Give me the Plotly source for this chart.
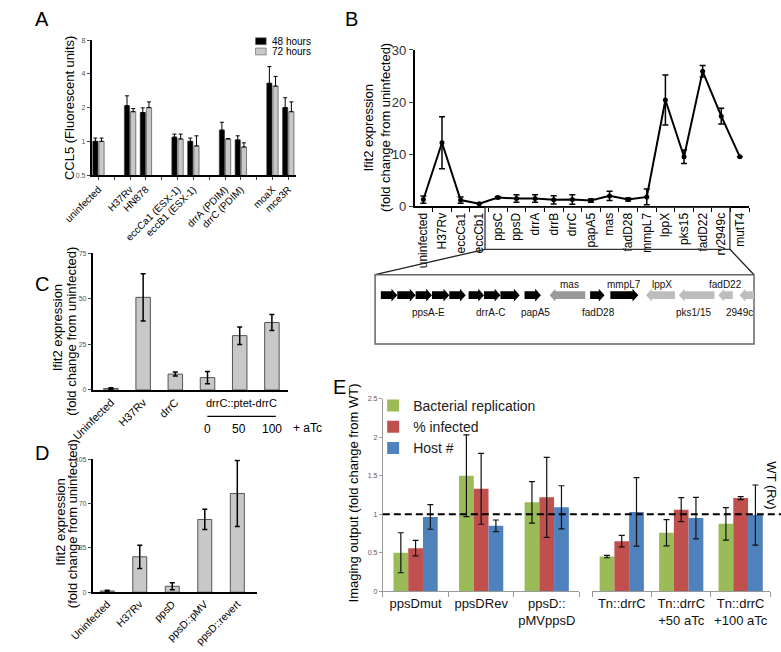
import math
import plotly.graph_objects as go

W, H = 781, 652
FONT = "Liberation Sans, Arial, sans-serif"


def px(x):
    return x / W


def py(y):
    return 1 - y / H


# ---------------- Panel A data ----------------
a_categories = ["uninfected", "H37Rv", "HN878", "eccCa1 (ESX-1)", "eccB1 (ESX-1)",
                "drrA (PDIM)", "drrC (PDIM)", "moaX", "mce3R"]
a_slots = [0, 2, 3, 5, 6, 8, 9, 11, 12]
a_48h = [1.0, 2.08, 1.81, 1.09, 1.0, 1.26, 1.03, 3.3, 2.0]
a_48h_upper = [1.07, 2.55, 1.99, 1.16, 1.07, 1.48, 1.12, 4.65, 2.45]
a_72h = [1.0, 1.84, 2.0, 1.05, 0.91, 1.05, 0.89, 3.11, 1.84]
a_72h_upper = [1.07, 1.96, 2.25, 1.16, 1.12, 1.06, 0.97, 3.8, 2.25]
a_series = ["48 hours", "72 hours"]
a_colors = ["#000000", "#c8c8c8"]
a_yticks = [0.5, 1, 2, 4, 8]

# ---------------- Panel B data ----------------
b_categories = ["uninfected", "H37Rv", "eccCa1", "eccCb1", "ppsC", "ppsD", "drrA", "drrB",
                "drrC", "papA5", "mas", "fadD28", "mmpL7", "lppX", "pks15", "fadD22",
                "rv2949c", "mutT4"]
b_values = [1.3, 12.2, 1.2, 0.5, 1.7, 1.5, 1.5, 1.25, 1.3, 1.1, 2.0, 1.3, 1.8, 20.4, 9.5,
            25.9, 17.3, 9.5]
b_errors = [0.7, 5.0, 0.6, 0.0, 0.2, 0.7, 0.7, 0.8, 0.9, 0.3, 0.9, 0.3, 1.5, 4.8, 1.3,
            1.1, 1.5, 0.0]
b_yticks = [0, 10, 20, 30]

# ---------------- Gene diagram data (kb-like units along the locus) ----------------
gene_names = ["ppsA", "ppsB", "ppsC", "ppsD", "ppsE", "drrA", "drrB", "drrC", "papA5",
              "mas", "fadD28", "mmpL7", "lppX", "pks1/15", "fadD22", "rv2949c"]
gene_start = [0.6, 2.3, 4.2, 5.9, 7.7, 9.7, 11.3, 13.0, 15.5, 18.1, 22.3, 24.4, 28.1,
              31.5, 35.6, 37.8]
gene_end = [2.3, 4.2, 5.9, 7.7, 9.4, 11.3, 13.0, 15.0, 17.2, 21.8, 23.8, 27.3, 31.1,
            35.2, 37.1, 39.3]
gene_strand = [1, 1, 1, 1, 1, 1, 1, 1, 1, -1, 1, 1, -1, -1, -1, -1]
gene_color = ["#000000"] * 9 + ["#9a9a9a", "#000000", "#000000", "#bdbdbd", "#bdbdbd",
                                "#bdbdbd", "#bdbdbd"]
label_text = ["ppsA-E", "drrA-C", "papA5", "mas", "fadD28", "mmpL7", "lppX", "pks1/15",
              "fadD22", "2949c"]
label_pos = [5.5, 12.0, 16.6, 20.2, 23.2, 25.8, 29.8, 33.0, 36.3, 37.8]
label_above = [False, False, False, True, False, True, True, False, True, False]

# ---------------- Panel C data ----------------
c_categories = ["Uninfected", "H37Rv", "drrC"]
c_atc_doses = ["0", "50", "100"]
c_values = [0.8, 50.8, 8.7, 6.8, 29.8, 37.0]
c_errors = [0.4, 13.0, 1.1, 3.4, 4.8, 4.4]
c_yticks = [0, 25, 50, 75]

# ---------------- Panel D data ----------------
d_categories = ["Uninfected", "H37Rv", "ppsD", "ppsD::pMV", "ppsD::revert"]
d_values = [1.0, 28.0, 4.7, 57.5, 78.0]
d_errors = [0.6, 9.2, 2.8, 8.0, 26.0]
d_yticks = [0, 35, 70, 105]

# ---------------- Panel E data ----------------
e_series = ["Bacterial replication", "% infected", "Host #"]
e_colors = ["#9BBB59", "#C0504D", "#4F81BD"]
e_categories_1 = ["ppsDmut", "ppsDRev", "ppsD::<br>pMVppsD"]
e_categories_2 = ["Tn::drrC", "Tn::drrC<br>+50 aTc", "Tn::drrC<br>+100 aTc"]
e_values_1 = [[0.5, 1.5, 1.155], [0.56, 1.33, 1.22], [0.965, 0.85, 1.09]]
e_errors_1 = [[0.26, 0.53, 0.27], [0.1, 0.46, 0.52], [0.16, 0.075, 0.28]]
e_values_2 = [[0.45, 0.76, 0.875], [0.65, 1.06, 1.21], [1.03, 0.95, 0.99]]
e_errors_2 = [[0.015, 0.17, 0.21], [0.075, 0.155, 0.02], [0.445, 0.27, 0.39]]
e_yticks = [0, 0.5, 1, 1.5, 2, 2.5]
e_reference = 1.0

fig = go.Figure()

# ---------- Panel A traces ----------
for name, vals, upper, color, off in [(a_series[0], a_48h, a_48h_upper, a_colors[0], -0.36),
                                       (a_series[1], a_72h, a_72h_upper, a_colors[1], 0.03)]:
    fig.add_trace(go.Bar(
        x=a_slots, y=vals, name=name, xaxis="x", yaxis="y", showlegend=False,
        width=0.33, offset=off,
        marker=dict(color=color, line=dict(color="#333333", width=0.6)),
        error_y=dict(type="data", symmetric=False,
                     array=[u - v for u, v in zip(upper, vals)],
                     arrayminus=[0] * len(vals), color="#000000", thickness=1, width=2),
    ))

# ---------- Panel B trace ----------
fig.add_trace(go.Scatter(
    x=list(range(len(b_categories))), y=b_values, mode="lines+markers",
    xaxis="x2", yaxis="y2", showlegend=False,
    line=dict(color="#000000", width=2), marker=dict(color="#000000", size=5),
    error_y=dict(type="data", array=b_errors, color="#000000", thickness=1.5, width=3),
))

# ---------- Panel C trace ----------
fig.add_trace(go.Bar(
    x=list(range(len(c_values))), y=c_values, xaxis="x4", yaxis="y4", showlegend=False,
    width=0.45, marker=dict(color="#c8c8c8", line=dict(color="#555555", width=1)),
    error_y=dict(type="data", array=c_errors, color="#000000", thickness=1.5, width=2.5),
))

# ---------- Panel D trace ----------
fig.add_trace(go.Bar(
    x=list(range(len(d_values))), y=d_values, xaxis="x5", yaxis="y5", showlegend=False,
    width=0.43, marker=dict(color="#c8c8c8", line=dict(color="#555555", width=1)),
    error_y=dict(type="data", array=d_errors, color="#000000", thickness=1.5, width=2.5),
))

# ---------- Panel E traces ----------
for k in range(3):
    w1 = 0.225
    fig.add_trace(go.Bar(
        x=[0, 1, 2], y=e_values_1[k], name=e_series[k], xaxis="x6", yaxis="y6",
        width=w1, offset=-1.5 * w1 + k * w1, legend="legend",
        marker=dict(color=e_colors[k], line=dict(width=0)),
        error_y=dict(type="data", array=e_errors_1[k], color="#111111", thickness=1.2, width=3),
    ))
for k in range(3):
    w2 = 0.248
    fig.add_trace(go.Bar(
        x=[0, 1, 2], y=e_values_2[k], name=e_series[k], xaxis="x7", yaxis="y6",
        width=w2, offset=-1.5 * w2 + k * w2, showlegend=False,
        marker=dict(color=e_colors[k], line=dict(width=0)),
        error_y=dict(type="data", array=e_errors_2[k], color="#111111", thickness=1.2, width=3),
    ))

small_tick = dict(size=7, color="#555555", family=FONT)

layout = dict(
    width=W, height=H, margin=dict(l=0, r=0, t=0, b=0),
    paper_bgcolor="white", plot_bgcolor="white",
    font=dict(family=FONT, color="#000000"),
    # Panel A
    xaxis=dict(domain=[px(66), px(278)], anchor="y", range=[-0.43, 12.49],
               tickmode="array", tickvals=a_slots, ticktext=a_categories, tickangle=-45,
               tickfont=dict(size=10), ticks="outside", ticklen=3,
               minor=dict(tickmode="linear", tick0=0, dtick=1, ticks="outside", ticklen=3),
               showline=True, linecolor="#000", linewidth=1.5, showgrid=False, zeroline=False),
    yaxis=dict(domain=[py(172), py(34)], anchor="x", type="log",
               range=[math.log10(0.5), math.log10(8)], tickmode="array", tickvals=a_yticks,
               ticktext=[str(t) for t in a_yticks], tickfont=small_tick, ticks="outside",
               ticklen=3, showline=True, linecolor="#000", linewidth=1.5, showgrid=False),
    # Panel B
    xaxis2=dict(domain=[px(401), px(748)], anchor="y2", range=[-0.47, 17.5],
                tickmode="array", tickvals=list(range(len(b_categories))),
                ticktext=b_categories, tickangle=-90, tickfont=dict(size=12),
                ticks="", minor=dict(tickmode="linear", tick0=0.5, dtick=1,
                                     ticks="outside", ticklen=4, tickcolor="#000"),
                showline=True, linecolor="#000", linewidth=1.5, showgrid=False, zeroline=False),
    yaxis2=dict(domain=[py(204), py(44)], anchor="x2", range=[0, 30], tickmode="array",
                tickvals=b_yticks, tickfont=dict(size=13, color="#333"), ticks="outside",
                ticklen=4, showline=True, linecolor="#000", linewidth=1.5, showgrid=False,
                zeroline=False),
    # Gene diagram axes
    xaxis3=dict(domain=[px(360), px(753)], anchor="y3", range=[0, 39.3], visible=False),
    yaxis3=dict(domain=[py(345), py(274)], anchor="x3", range=[-50, 21], visible=False),
    # Panel C
    xaxis4=dict(domain=[px(67), px(270)], anchor="y4", range=[-0.57, 5.51],
                tickmode="array", tickvals=[0, 1, 2], ticktext=c_categories, tickangle=-45,
                tickfont=dict(size=11), ticks="", showline=True, linecolor="#000",
                linewidth=1.5, showgrid=False, zeroline=False),
    yaxis4=dict(domain=[py(392), py(252)], anchor="x4", range=[0, 75], tickmode="array",
                tickvals=c_yticks, tickfont=small_tick, ticks="outside", ticklen=3,
                showline=True, linecolor="#000", linewidth=1.5, showgrid=False, zeroline=False),
    # Panel D
    xaxis5=dict(domain=[px(67), px(238)], anchor="y5", range=[-0.45, 4.62],
                tickmode="array", tickvals=list(range(len(d_categories))),
                ticktext=d_categories, tickangle=-45, tickfont=dict(size=10.5), ticks="",
                showline=True, linecolor="#000", linewidth=1.5, showgrid=False,
                zeroline=False),
    yaxis5=dict(domain=[py(599), py(463)], anchor="x5", range=[0, 105], tickmode="array",
                tickvals=d_yticks, tickfont=small_tick, ticks="outside", ticklen=3,
                showline=True, linecolor="#000", linewidth=1.5, showgrid=False, zeroline=False),
    # Panel E
    xaxis6=dict(domain=[px(368), px(572)], anchor="y6", range=[-0.5, 2.5],
                tickmode="array", tickvals=[0, 1, 2], ticktext=e_categories_1,
                tickangle=0, tickfont=dict(size=13, color="#111"), ticks="",
                minor=dict(tickmode="linear", tick0=-0.5, dtick=1, ticks="outside",
                           ticklen=5, tickcolor="#999"),
                showline=True, linecolor="#999", linewidth=1, showgrid=False, zeroline=False),
    xaxis7=dict(domain=[px(585), px(770)], anchor="y6", range=[-0.5, 2.5],
                tickmode="array", tickvals=[0, 1, 2], ticktext=e_categories_2,
                tickangle=0, tickfont=dict(size=13, color="#111"), ticks="",
                minor=dict(tickmode="linear", tick0=-0.5, dtick=1, ticks="outside",
                           ticklen=5, tickcolor="#999"),
                showline=True, linecolor="#999", linewidth=1, showgrid=False, zeroline=False),
    yaxis6=dict(domain=[py(598), py(401)], anchor="x6", range=[0, 2.5], tickmode="array",
                tickvals=e_yticks, ticktext=["0", "0.5", "1", "1.5", "2", "2.5"],
                tickfont=small_tick, ticks="outside", ticklen=3, tickcolor="#999",
                showline=True, linecolor="#999", linewidth=1, showgrid=False, zeroline=False),
    legend=dict(x=px(358), y=py(392), xanchor="left", yanchor="top",
                font=dict(size=14, color="#222"), bgcolor="rgba(0,0,0,0)",
                tracegroupgap=0, itemwidth=30),
    showlegend=True,
)
fig.update_layout(**layout)

shapes = []
annotations = []


def text(t, xx, yy, size=12, angle=0, color="#000", xanchor="center", xref="paper",
         yref="paper", raw=False):
    annotations.append(dict(text=t, x=xx if raw else px(xx), y=yy if raw else py(yy),
                            xref=xref, yref=yref, showarrow=False, textangle=angle,
                            xanchor=xanchor, yanchor="middle",
                            font=dict(size=size, color=color)))


# Panel A legend (drawn compactly, as in the figure)
for i, (name, col) in enumerate(zip(a_series, a_colors)):
    yc = 35 + i * 10.5
    shapes.append(dict(type="rect", xref="paper", yref="paper", x0=px(236), x1=px(247),
                       y0=py(yc + 3.5), y1=py(yc - 3.5), fillcolor=col,
                       line=dict(color="#555", width=0.6)))
    text(name, 251, yc, size=10, xanchor="left")

# Box under panel B and connector lines to the gene diagram
shapes.append(dict(type="rect", xref="paper", yref="paper", x0=px(474), x1=px(728),
                   y0=py(248), y1=py(205), line=dict(color="#333", width=1.3)))
shapes.append(dict(type="line", xref="paper", yref="paper", x0=px(474), y0=py(248),
                   x1=px(360), y1=py(274), line=dict(color="#222", width=1.3)))
shapes.append(dict(type="line", xref="paper", yref="paper", x0=px(728), y0=py(248),
                   x1=px(753), y1=py(274), line=dict(color="#222", width=1.3)))
shapes.append(dict(type="rect", xref="paper", yref="paper", x0=px(360), x1=px(753),
                   y0=py(345), y1=py(274), line=dict(color="#666", width=1.5)))

# Gene arrows
SH, HH, HL = 4.0, 6.5, 0.6
for s, e, strand, col in zip(gene_start, gene_end, gene_strand, gene_color):
    if strand > 0:
        hb = e - HL
        path = (f"M{s},{-SH} L{hb},{-SH} L{hb},{-HH} L{e},0 L{hb},{HH} L{hb},{SH} "
                f"L{s},{SH} Z")
    else:
        hb = s + HL
        path = (f"M{e},{-SH} L{hb},{-SH} L{hb},{-HH} L{s},0 L{hb},{HH} L{hb},{SH} "
                f"L{e},{SH} Z")
    shapes.append(dict(type="path", xref="x3", yref="y3", path=path, fillcolor=col,
                       line=dict(width=0)))
for txt, xpos, above in zip(label_text, label_pos, label_above):
    text(txt, xpos, 10.5 if above else -18, size=10, color="#111", xref="x3", yref="y3",
         raw=True)

# Dashed WT line in E
shapes.append(dict(type="line", xref="paper", yref="y6", x0=px(368), x1=1.0,
                   y0=e_reference, y1=e_reference,
                   line=dict(color="#000", width=2, dash="7px,4px")))

# Panel C dose annotation
shapes.append(dict(type="line", xref="paper", yref="paper", x0=px(186), x1=px(257),
                   y0=py(419), y1=py(419), line=dict(color="#000", width=1.2)))
text("drrC::ptet-drrC", 221, 405, size=11)
for t, xx in zip(c_atc_doses, [186, 219, 253]):
    text(t, xx, 432, size=12)
text("+ aTc", 290, 431, size=12)

# Panel letters
for letter, xx, yy in [("A", 15, 12), ("B", 336, 12), ("C", 15, 284), ("D", 15, 457),
                       ("E", 323, 389)]:
    text(letter, xx, yy, size=20)

# Axis titles
text("CCL5 (Fluorescent units)", 43, 103, size=13, angle=-90)
text("Ifit2 expression", 353, 124, size=13, angle=-90)
text("(fold change from uninfected)", 370, 123, size=13, angle=-90)
text("Ifit2 expression", 31, 328, size=13, angle=-90)
text("(fold change from uninfected)", 45, 332, size=13, angle=-90)
text("Ifit2 expression", 34, 527, size=13, angle=-90)
text("(fold change from uninfected)", 47, 529, size=13, angle=-90)
text("Imaging output (fold change from WT)", 338, 497, size=13, angle=-90)
text("WT (Rv)", 771, 490, size=13, angle=90)

fig.update_layout(shapes=shapes, annotations=annotations)
fig.write_html("out.html", config={"displayModeBar": False},
               post_script="document.body.style.margin='0px';"
                           "document.body.style.padding='0px';"
                           "document.body.style.overflow='hidden';")
